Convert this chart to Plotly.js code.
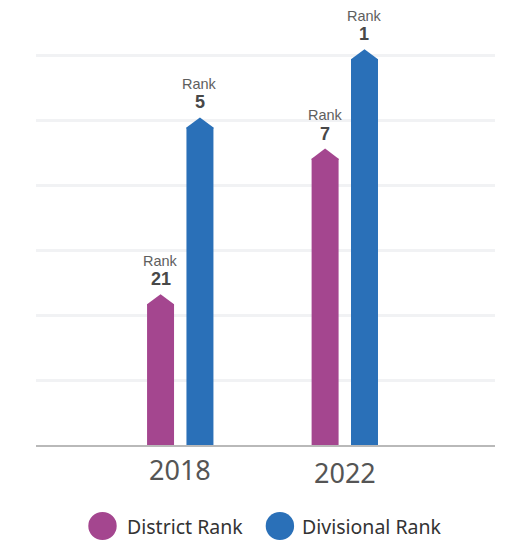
<!DOCTYPE html>
<html>
<head>
<meta charset="utf-8">
<script src="https://cdn.plot.ly/plotly-3.0.1.min.js"></script>
<style>html,body{margin:0;padding:0;background:#fff;}#chart{width:507px;height:540px;}</style>
</head>
<body>
<div id="chart"></div>
<script>
// ---- data ----
const years = ['2018', '2022'];
const districtValues = [2.32, 4.56];
const divisionalValues = [5.04, 6.09];
const districtRanks = [21, 7];
const divisionalRanks = [5, 1];
const seriesNames = ['District Rank', 'Divisional Rank'];
const rankWord = 'Rank';

// ---- style ----
const colors = ['#a4468f', '#2a70b8'];
const FONT = 'Noto Sans, sans-serif';
const LABEL_FONT = 'Liberation Sans, Arial, sans-serif';
const barWidth = 0.164;
const offsets = [-0.2017, 0.0377];
const tipH = 0.155;
const xs = years.map((y, i) => i);
const series = [districtValues, divisionalValues];
const ranks = [districtRanks, divisionalRanks];

const traces = [];
const annotations = [];
series.forEach((vals, s) => {
  traces.push({
    type: 'bar', x: xs, y: vals.map(v => v - tipH), width: barWidth, offset: offsets[s],
    marker: {color: colors[s], line: {width: 0}}, showlegend: false, hoverinfo: 'skip'
  });
  vals.forEach((v, i) => {
    const cx = xs[i] + offsets[s] + barWidth / 2;
    const hw = barWidth / 2;
    traces.push({
      type: 'scatter', mode: 'lines', fill: 'toself', fillcolor: colors[s],
      x: [cx - hw, cx - hw, cx, cx + hw, cx + hw],
      y: [v - tipH - 0.02, v - tipH, v, v - tipH, v - tipH - 0.02],
      line: {width: 0, color: colors[s]}, showlegend: false, hoverinfo: 'skip'
    });
    annotations.push({
      x: cx, y: v, xref: 'x', yref: 'y', text: String(ranks[s][i]), showarrow: false,
      yanchor: 'bottom', yshift: 4, borderpad: 0,
      font: {family: LABEL_FONT, size: 18, color: '#484848', weight: 'bold'}
    });
    annotations.push({
      x: cx, y: v, xref: 'x', yref: 'y', text: rankWord, showarrow: false,
      yanchor: 'bottom', yshift: 24.5, borderpad: 0,
      font: {family: LABEL_FONT, size: 14.5, color: '#5e5e5e'}
    });
  });
});

// category labels
const labelShift = [-4, -7];
years.forEach((yr, i) => {
  annotations.push({
    x: xs[i], y: 0, xref: 'x', yref: 'y', text: yr, showarrow: false, yanchor: 'top',
    yshift: labelShift[i], font: {family: FONT, size: 27, color: '#555555'}
  });
});

// custom legend
const plotL = 36, plotW = 459, plotB = 445, plotH = 425;
const px2x = p => (p - plotL) / plotW;
const py2y = p => (plotB - p) / plotH;
const legendCircleX = [88.3, 265.7];
const legendTextX = [125, 300];
const shapes = [];
seriesNames.forEach((name, s) => {
  shapes.push({
    type: 'circle', xref: 'paper', yref: 'paper',
    x0: px2x(legendCircleX[s]), x1: px2x(legendCircleX[s] + 28.4),
    y0: py2y(540), y1: py2y(512),
    fillcolor: colors[s], line: {width: 0}
  });
  annotations.push({
    x: px2x(legendTextX[s]), y: py2y(526), xref: 'paper', yref: 'paper', text: name,
    showarrow: false, xanchor: 'left', yanchor: 'middle',
    font: {family: FONT, size: 19.5, color: '#333333'}
  });
});

const layout = {
  width: 507, height: 540,
  margin: {l: 36, r: 12, t: 20, b: 95},
  paper_bgcolor: '#ffffff', plot_bgcolor: '#ffffff',
  barmode: 'overlay',
  showlegend: false,
  xaxis: {
    range: [-0.8766, 1.9128], showgrid: false, zeroline: false, showticklabels: false,
    showline: true, linecolor: '#b9b9b9', linewidth: 2, ticks: '', fixedrange: true
  },
  yaxis: {
    range: [0, 425 / 65], dtick: 1, tick0: 0, showgrid: true, gridcolor: '#f1f2f4', gridwidth: 3,
    zeroline: false, showticklabels: false, ticks: '', showline: false, fixedrange: true
  },
  annotations: annotations,
  shapes: shapes
};

Plotly.newPlot('chart', traces, layout, {displayModeBar: false, staticPlot: true});
</script>
</body>
</html>
